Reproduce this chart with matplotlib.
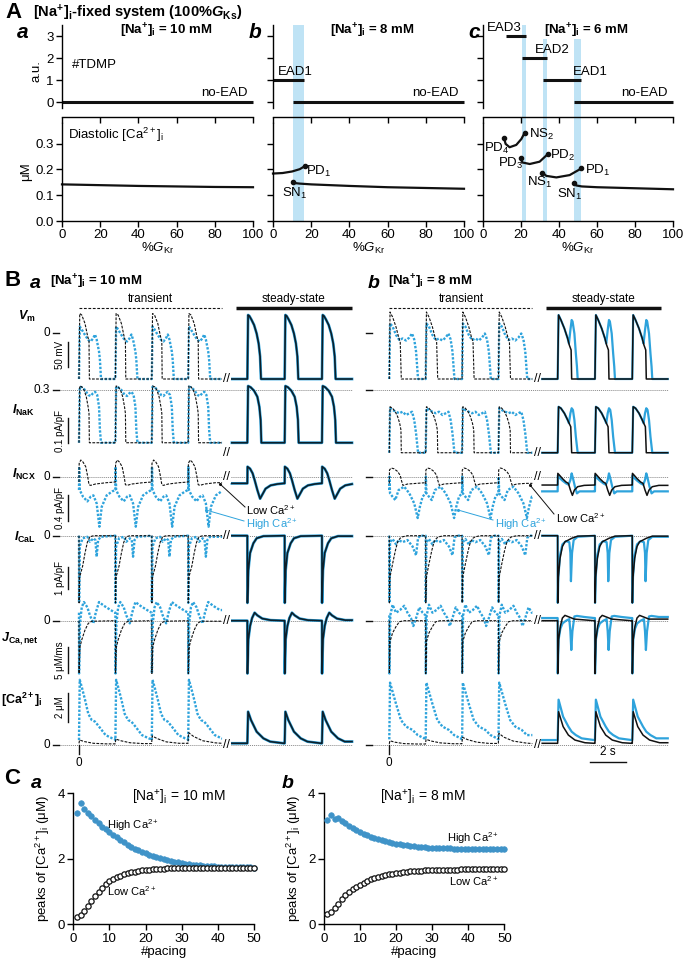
import matplotlib.pyplot as plt
import matplotlib.transforms as mtransforms
from matplotlib.patches import Rectangle

plt.rcParams['font.family'] = ['Liberation Sans', 'DejaVu Sans']
plt.rcParams['mathtext.fontset'] = 'custom'
plt.rcParams['mathtext.rm'] = 'Liberation Sans'
plt.rcParams['mathtext.it'] = 'Liberation Sans:italic'
plt.rcParams['mathtext.bf'] = 'Liberation Sans:bold'
plt.rcParams['mathtext.bfit'] = 'Liberation Sans:bold:italic'
plt.rcParams['axes.linewidth'] = 1.0
plt.rcParams['xtick.direction'] = 'out'
plt.rcParams['ytick.direction'] = 'out'

BLUE = '#2ea3dc'
CBLUE = '#3f93c8'
BAND = '#bfe3f5'
DOT_GREY = '#888888'

### panel A data (%GKr on x)
GKR_TICKS = [0, 20, 40, 60, 80, 100]
# TDMP segments: (start %GKr, end %GKr, number of EADs)
TDMP_A = [(0, 100, 0)]
TDMP_B = [(0, 16.2, 1), (10.5, 100, 0)]
TDMP_C = [(12, 22.6, 3), (20.5, 33.7, 2), (31.6, 51.6, 1), (47.9, 100, 0)]
TDMP_LABELS_B = [('EAD1', 2.5, 1.08)]
TDMP_LABELS_C = [('EAD3', 2, 3.08), ('EAD2', 27.5, 2.08), ('EAD1', 47.5, 1.08)]
BANDS_B = [(10.5, 16.2)]
BANDS_C = [(20.5, 22.6), (31.6, 33.7), (47.9, 51.6)]

# diastolic [Ca2+]i branches (uM)
DIAST_A = ([0, 20, 40, 60, 80, 100], [0.142, 0.139, 0.136, 0.134, 0.132, 0.131])
DIAST_B = [([0, 5, 10, 14, 16.5], [0.184, 0.186, 0.192, 0.201, 0.212]),
           ([10.3, 11.5, 14, 20, 40, 60, 80, 100], [0.153, 0.147, 0.145, 0.142, 0.136, 0.131, 0.128, 0.125])]
DIAST_C = [([47.9, 49, 52, 60, 80, 100], [0.147, 0.138, 0.134, 0.131, 0.127, 0.123]),
           ([31.2, 33.3, 38.6, 45.6, 51.8], [0.188, 0.175, 0.169, 0.178, 0.204]),
           ([19.8, 20.7, 24.6, 29.8, 34.2], [0.243, 0.227, 0.221, 0.23, 0.26]),
           ([11.1, 11.9, 14, 17.5, 20.2, 21.9], [0.321, 0.299, 0.286, 0.295, 0.318, 0.342])]
DOTS_B = ([16.5, 10.3], [0.212, 0.153])
DOTS_C = ([47.9, 31.2, 51.8, 19.8, 34.2, 11.1, 21.9], [0.147, 0.188, 0.204, 0.243, 0.26, 0.321, 0.342])
LABELS_B = [('PD$_1$', 17.5, 0.192), ('SN$_1$', 4.5, 0.108)]
LABELS_C = [('NS$_2$', 24.0, 0.337), ('PD$_4$', 0.5, 0.283), ('PD$_3$', 8.0, 0.222), ('PD$_2$', 35.0, 0.255),
            ('NS$_1$', 23.0, 0.148), ('PD$_1$', 53.5, 0.196), ('SN$_1$', 39.0, 0.103)]

### panel B data: one beat per template, time in s after the stimulus
ONSETS_TR = [0, 2, 4, 6]
ONSETS_SS = [9.25, 11.3, 13.35]

VM_LOW_A = ([0, .04, .15, .33, .46, .55, .57], [-92, 39, 36, 19, -4, -17, -92])
VM_HIGH_A = ([0, .04, .15, .33, .51, .64, .77, .88, .97, 1.10, 1.15, 1.21],
             [-92, 13, 7, -4, -14, -17, -11, -3, -13, -37, -54, -92])
VM_SS_A = ([0, .04, .11, .22, .37, .51, .62, .70, .75], [-92, 36, 34, 27, 16, -1, -21, -47, -92])
VM_LOW_B = ([0, .04, .18, .37, .51, .60, .66], [-92, 42, 32, 12, -8, -18, -92])
VM_HIGH_B = ([0, .04, .18, .37, .55, .73, .92, 1.10, 1.25, 1.37, 1.47, 1.58],
             [-92, 19, 13, -4, -14, -11, -15, -9, -1, -13, -37, -92])
VM_SS_B = ([0, .05, .18, .37, .55, .64, .74, .77], [-92, 36, 26, 9, -11, -24, -34, -92])
VM_SS_HIGH_B = ([0, .05, .18, .37, .55, .62, .70, .77, .82, .92, 1.0, 1.06, 1.1],
                [-92, 36, 26, 9, -11, -21, 6, 26, 23, -1, -41, -67, -92])

NAK_LOW_A = ([0, .04, .15, .28, .40, .50, .55, .57], [.089, .316, .313, .3, .273, .233, .207, .089])
NAK_HIGH_A = ([0, .04, .15, .33, .51, .64, .77, .88, 1.0, 1.10, 1.15, 1.21],
              [.089, .313, .311, .3, .28, .276, .287, .293, .28, .233, .14, .089])
NAK_SS_A = ([0, .04, .18, .37, .55, .66, .73, .77], [.089, .316, .311, .297, .273, .233, .18, .089])
NAK_LOW_B = ([0, .04, .18, .33, .46, .57, .64, .66], [.049, .233, .227, .213, .193, .167, .14, .049])
NAK_HIGH_B = ([0, .04, .18, .37, .55, .73, .92, 1.10, 1.25, 1.37, 1.47, 1.58],
              [.049, .227, .22, .213, .207, .213, .2, .207, .213, .18, .127, .049])
NAK_SS_B = ([0, .05, .18, .37, .55, .72, .77], [.049, .233, .227, .207, .18, .153, .049])
NAK_SS_HIGH_B = ([0, .05, .18, .37, .55, .62, .70, .77, .84, .92, 1.0, 1.1],
                 [.049, .233, .227, .207, .18, .167, .207, .227, .22, .18, .113, .049])

NCX_LOW_A = ([0, .01, .1, .22, .37, .48, .55, .64, .9, 1.5, 1.99],
             [-.08, .2, .25, .22, .15, 0, -.12, -.13, -.11, -.09, -.08])
NCX_HIGH_A = ([0, .01, .04, .22, .46, .64, .79, .97, 1.12, 1.25, 1.52, 1.83, 1.99],
              [-.2, .15, -.2, -.3, -.37, -.3, -.28, -.4, -.75, -.45, -.28, -.22, -.2])
NCX_SS_A = ([0, .01, .15, .29, .40, .55, .70, .82, 1.0, 1.28, 1.65, 2.0],
            [-.1, .15, .12, .05, -.05, -.2, -.33, -.27, -.18, -.13, -.11, -.1])
NCX_LOW_B = ([0, .01, .1, .25, .45, .6, .66, .75, 1.0, 1.5, 1.99],
             [-.1, .1, .13, .12, .08, .02, -.05, -.13, -.11, -.1, -.09])
NCX_HIGH_B = ([0, .01, .04, .18, .33, .51, .82, 1.1, 1.37, 1.56, 1.68, 1.83, 1.99],
              [-.2, 0, -.25, -.3, -.35, -.2, -.15, -.25, -.4, -.62, -.45, -.3, -.25])
NCX_SS_B = ([0, .01, .11, .27, .46, .59, .70, .81, .92, 1.1, 1.46, 2.0],
            [-.125, .05, .02, -.03, -.08, -.1, -.2, -.28, -.2, -.15, -.13, -.125])
NCX_SS_HIGH_B = ([0, .01, .11, .27, .46, .60, .70, .77, .84, .95, 1.06, 1.2, 2.0],
                 [-.22, .02, -.02, -.06, -.1, -.12, -.05, .05, -.02, -.15, -.25, -.22, -.22])

CAL_LOW_A = ([0, .005, .04, .2, .33, .46, .6, .8], [0, -3.1, -1.9, -1.4, -.8, -.3, -.05, 0])
CAL_HIGH_A = ([0, .005, .04, .2, .46, .6, .79, .9, .97, 1.05, 1.2],
              [0, -3.1, -.5, -.12, -.05, -.28, -.12, -.2, -.97, -.2, -.05])
CAL_SS_A = ([0, .005, .055, .15, .33, .51, .88], [0, -3.1, -1.6, -.8, -.35, -.12, -.02])
CAL_LOW_B = ([0, .005, .04, .18, .33, .46, .59, .73, 1.0], [0, -3.1, -1.9, -1.3, -.7, -.28, -.12, -.05, 0])
CAL_HIGH_B = ([0, .005, .04, .18, .37, .51, .73, 1.0, 1.28, 1.47, 1.58, 1.7],
              [0, -3.1, -.3, -.15, -.4, -.2, -.3, -.2, -.5, -.9, -.1, 0])
CAL_SS_B = ([0, .005, .04, .13, .26, .40, .59, .77, 1.1], [0, -3.1, -1.9, -1.05, -.5, -.28, -.2, -.12, -.02])
CAL_SS_HIGH_B = ([0, .005, .04, .13, .26, .46, .64, .70, .73, .79, .88, 1.1],
                 [0, -3.1, -1.9, -.9, -.4, -.25, -.3, -.8, -2.1, -.8, -.2, -.05])

JCA_LOW_A = ([0, .005, .055, .15, .33, .51, .7], [0, -9.9, -4.9, -3.6, -1.75, -.5, -.1])
JCA_HIGH_A = ([0, .005, .055, .15, .27, .46, .60, .79, .92, 1.1, 1.37, 1.74, 1.99],
              [1.5, -9.9, -.5, 2.5, 3.5, 2.5, 1.0, -.5, 1.5, 3.5, 2.8, 2.0, 1.5])
JCA_SS_A = ([0, .005, .055, .15, .26, .40, .55, .82, 1.28, 2.0], [0, -9.9, -3.5, -1.0, .5, 1.5, 1.0, .4, .1, 0])
JCA_LOW_B = ([0, .005, .04, .18, .37, .55, .8], [0, -9.9, -3.9, -2.3, -1.1, -.2, 0])
JCA_HIGH_B = ([0, .005, .055, .18, .37, .59, .82, 1.0, 1.19, 1.32, 1.47, 1.65, 1.83, 1.99],
              [1, -9.9, 1, 3, 1.5, 2, 2.8, 1.5, .5, -1, .5, 2.5, 1.5, 1])
JCA_SS_B = ([0, .005, .055, .15, .26, .40, .55, .92, 2.0], [0, -9.9, -3.5, -1.0, .5, 1.0, .8, .3, 0])
JCA_SS_HIGH_B = ([0, .005, .055, .15, .27, .46, .64, .70, .75, .81, .92, 1.06, 1.46, 2.0],
                 [.5, -9.9, -3.5, -1.5, -.5, 0, .3, -2, -5.5, -2, .8, .9, .7, .5])

# low-Ca transient [Ca2+]i grows beat by beat, so it is given for the whole transient
CA_LOW_A = ([0, .03, .3, .8, 1.5, 1.99, 2.02, 2.3, 2.8, 3.5, 3.99, 4.02, 4.3, 4.8, 5.5, 5.99, 6.02, 6.3, 6.8, 7.5, 7.86],
            [.12, .35, .24, .12, .08, .08, .42, .3, .16, .1, .1, .64, .45, .22, .12, .12, .87, .6, .3, .15, .12])
CA_HIGH_A = ([0, .04, .15, .33, .51, .7, .88, 1.1, 1.46, 1.83, 1.99], [.35, 4.6, 4.1, 3.2, 2.2, 1.76, 1.65, 1.3, .7, .47, .4])
CA_SS_A = ([0, .04, .2, .51, .88, 1.25, 2.0], [.12, 2.35, 1.76, .94, .47, .24, .12])
CA_LOW_B = ([0, .03, .3, .8, 1.5, 1.99, 2.02, 2.3, 2.8, 3.5, 3.99, 4.02, 4.3, 4.8, 5.5, 5.99, 6.02, 6.3, 6.8, 7.5, 7.86],
            [.08, .3, .2, .1, .07, .07, .4, .28, .15, .09, .09, .54, .38, .2, .11, .11, .82, .55, .28, .14, .1])
CA_HIGH_B = ([0, .04, .37, .64, .92, 1.28, 1.56, 1.92, 1.99], [.4, 4.4, 2.9, 1.76, 1.3, 1.06, .7, .47, .4])
CA_SS_B = ([0, .05, .3, .59, .95, 1.5, 2.0], [.12, 2.35, 1.3, .7, .35, .16, .12])
CA_SS_HIGH_B = ([0, .05, .3, .59, .77, 1.0, 1.32, 2.0], [.35, 3.2, 2.0, 1.3, .94, .7, .47, .35])

ROW_NAMES = ['vm', 'nak', 'ncx', 'cal', 'jca', 'ca']
ROW_LABELS = [r'$\mathbfit{V}_{\mathbf{m}}$', r'$\mathbfit{I}_{\mathbf{NaK}}$', r'$\mathbfit{I}_{\mathbf{NCX}}$',
              r'$\mathbfit{I}_{\mathbf{CaL}}$', r'$\mathbfit{J}_{\mathbf{Ca,net}}$',
              r'[Ca$^{\mathbf{2+}}$]$_{\mathbf{i}}$']
ROW_TICK_VALUES = [0, 0.3, 0, 0, 0, 0]
ROW_TICK_LABELS = ['0', '0.3', '0', '0', '0', '0']
SCALE_BAR_VALUES = [(-18, -68), (.188, .088), (-.27, -.67), (-1.45, -2.45), (-4.9, -9.9), (3.65, 1.65)]
SCALE_BAR_LABELS = ['50 mV', '0.1 pA/pF', '0.4 pA/pF', '1 pA/pF', '5 μM/ms', '2 μM']

### panel C data: peak [Ca2+]i per beat
PACING = list(range(1, 51))
PEAK_HIGH_A = [3.39, 3.69, 3.51, 3.39, 3.31, 3.2, 3.08, 2.98, 2.9, 2.82,
               2.74, 2.66, 2.58, 2.5, 2.43, 2.37, 2.31, 2.26, 2.21, 2.17,
               2.13, 2.09, 2.05, 2.02, 1.99, 1.96, 1.93, 1.91, 1.89, 1.87,
               1.85, 1.84, 1.82, 1.81, 1.8, 1.79, 1.78, 1.77, 1.77, 1.76,
               1.76, 1.75, 1.75, 1.75, 1.74, 1.74, 1.74, 1.74, 1.74, 1.73]
PEAK_LOW_A = [0.23, 0.28, 0.42, 0.57, 0.72, 0.87, 1.0, 1.12, 1.22, 1.31,
              1.38, 1.44, 1.49, 1.53, 1.56, 1.59, 1.61, 1.63, 1.645, 1.66,
              1.67, 1.68, 1.69, 1.695, 1.7, 1.705, 1.71, 1.71, 1.715, 1.72,
              1.72, 1.72, 1.72, 1.72, 1.725, 1.725, 1.725, 1.725, 1.725, 1.73,
              1.73, 1.73, 1.73, 1.73, 1.73, 1.73, 1.73, 1.73, 1.73, 1.73]
PEAK_HIGH_B = [3.2, 3.33, 3.22, 3.25, 3.15, 3.08, 3.0, 2.94, 2.88, 2.83,
               2.77, 2.72, 2.68, 2.64, 2.6, 2.57, 2.54, 2.51, 2.48, 2.46,
               2.44, 2.42, 2.41, 2.39, 2.38, 2.37, 2.36, 2.35, 2.34, 2.34,
               2.33, 2.33, 2.32, 2.32, 2.32, 2.31, 2.31, 2.31, 2.31, 2.31,
               2.3, 2.3, 2.3, 2.3, 2.3, 2.3, 2.3, 2.3, 2.3, 2.3]
PEAK_LOW_B = [0.3, 0.38, 0.5, 0.63, 0.76, 0.88, 0.98, 1.07, 1.15, 1.21,
              1.27, 1.32, 1.37, 1.41, 1.45, 1.48, 1.51, 1.53, 1.55, 1.57,
              1.58, 1.6, 1.61, 1.62, 1.63, 1.635, 1.64, 1.645, 1.65, 1.655,
              1.66, 1.66, 1.665, 1.665, 1.67, 1.67, 1.67, 1.675, 1.675, 1.675,
              1.68, 1.68, 1.68, 1.68, 1.68, 1.68, 1.68, 1.68, 1.68, 1.68]

### figure helpers (pixel layout)
W, H = 685, 966
fig = plt.figure(figsize=(W / 100, H / 100), dpi=100)


def px_axes(x0, y0, x1, y1):
    ax = fig.add_axes([x0 / W, 1 - y1 / H, (x1 - x0) / W, (y1 - y0) / H])
    ax.patch.set_visible(False)
    return ax


def ftext(x, y, s, **kw):
    fig.text(x / W, 1 - y / H, s, **kw)


def build_trace(onsets, template, start=None, end=None):
    tt, vv = template
    t_all, v_all = [], []
    if start is not None:
        t_all.append(start)
        v_all.append(vv[0])
    for t0 in onsets:
        for t, v in zip(tt, vv):
            t_all.append(t0 + t)
            v_all.append(v)
    if end is not None:
        keep = [i for i, t in enumerate(t_all) if t <= end]
        t_all = [t_all[i] for i in keep]
        v_all = [v_all[i] for i in keep]
        t_all.append(end)
        v_all.append(v_all[-1])
    return t_all, v_all


### panel A
ftext(5, 13, 'A', fontsize=16, fontweight='bold', va='center')
ftext(33, 13, r'[Na$^{\mathbf{+}}$]$_{\mathbf{i}}$-fixed system (100%$\mathbfit{G}_{\mathbf{Ks}}$)',
      fontsize=10.5, fontweight='bold', va='center')

A_COLS = [(62, 253), (273, 464), (483, 673)]
A_TITLES = [r'[Na$^{\mathbf{+}}$]$_{\mathbf{i}}$ = 10 mM', r'[Na$^{\mathbf{+}}$]$_{\mathbf{i}}$ = 8 mM',
            r'[Na$^{\mathbf{+}}$]$_{\mathbf{i}}$ = 6 mM']
A_TITLE_X = [166, 372, 586]
A_LETTER_X = [17, 249, 468]
tdmp_all = [TDMP_A, TDMP_B, TDMP_C]
tdmp_labels = [[], TDMP_LABELS_B, TDMP_LABELS_C]
bands_all = [[], BANDS_B, BANDS_C]
diast_all = [[DIAST_A], DIAST_B, DIAST_C]
dots_all = [None, DOTS_B, DOTS_C]
labels_all = [[], LABELS_B, LABELS_C]

for i, (x0, x1) in enumerate(A_COLS):
    ftext(A_LETTER_X[i], 32, 'abc'[i], fontsize=15, fontweight='bold', fontstyle='italic', va='center')
    ftext(A_TITLE_X[i], 31, A_TITLES[i], fontsize=9.5, fontweight='bold', va='center', ha='center')

    top = px_axes(x0, 25, x1, 117)
    top.set_xlim(0, 100)
    top.set_ylim(-0.68, 3.5)
    for sp in ['top', 'right']:
        top.spines[sp].set_visible(False)
    top.spines['left'].set_bounds(-0.25, 3.5)
    top.set_xticks(GKR_TICKS)
    top.set_xticklabels([])
    top.set_yticks([0, 1, 2, 3])
    top.tick_params(length=4, width=1, labelsize=9.5, pad=2)
    if i > 0:
        top.set_yticklabels([])
    else:
        top.set_ylabel('a.u.', fontsize=9.5, labelpad=3)
        top.text(5, 1.68, '#TDMP', fontsize=9.5, va='center')
    for (s, e, lev) in tdmp_all[i]:
        top.plot([s, e], [lev, lev], color='#111111', lw=2.2, solid_capstyle='butt', clip_on=False)
    top.text(97, 0.12, 'no-EAD', fontsize=9.5, ha='right', va='bottom')
    for (txt, x, y) in tdmp_labels[i]:
        top.text(x, y, txt, fontsize=9.5, va='bottom')

    low = px_axes(x0, 123, x1, 221)
    low.set_xlim(0, 100)
    low.set_ylim(0, 0.38)
    for sp in ['top', 'right']:
        low.spines[sp].set_visible(False)
    low.set_xticks(GKR_TICKS)
    low.set_yticks([0, 0.1, 0.2, 0.3])
    low.tick_params(length=4, width=1, labelsize=9.5, pad=2)
    if i > 0:
        low.set_yticklabels([])
    else:
        low.set_yticklabels(['0.0', '0.1', '0.2', '0.3'])
        low.set_ylabel('μM', fontsize=9.5, labelpad=2)
        low.text(3, 0.335, r'Diastolic [Ca$^{2+}$]$_\mathrm{i}$', fontsize=9.5, va='center')
    low.set_xlabel(r'%$G_{\mathrm{Kr}}$', fontsize=9.5, labelpad=0)
    for (bx, by) in diast_all[i]:
        low.plot(bx, by, color='#111111', lw=1.6, clip_on=False)
    if dots_all[i] is not None:
        low.plot(dots_all[i][0], dots_all[i][1], 'o', color='#111111', ms=3, clip_on=False)
    for (txt, x, y) in labels_all[i]:
        low.text(x, y, txt, fontsize=9.5, va='center')

    # light blue bands across both panels
    trans = mtransforms.blended_transform_factory(low.transData, fig.transFigure)
    for j, (lo, hi) in enumerate(bands_all[i]):
        ytop = 25 if (i == 1 or j == 0) else 39
        rect = Rectangle((lo, 1 - 221 / H), hi - lo, (221 - ytop) / H, transform=trans,
                         facecolor=BAND, edgecolor='none', zorder=-1)
        fig.add_artist(rect)

### panel B
PX_PER_S = 18.2
# row geometry: pixel of reference value, reference value, pixels per unit, top px, bottom px
ROW_GEOM = [(333, 0, 0.5, 296, 386), (390, 0.3, 250, 384, 458), (476.7, 0, 66.67, 455, 532),
            (535.7, 0, 21.67, 530, 606), (620.7, 0, 5.33, 597, 678), (745, 0, 14.17, 674, 762)]
# column geometry: pixel of t=0, axes left px, axes right px, end of steady-state trace (s)
COL_GEOM = {'a': (79, 40, 356, 15.0), 'b': (389.3, 358, 675, 15.3)}
BREAK_PX = [379, 453, 477, 536, 621, 745]

B_TRACES = {
    'a': [(VM_LOW_A, VM_HIGH_A, VM_SS_A, VM_SS_A), (NAK_LOW_A, NAK_HIGH_A, NAK_SS_A, NAK_SS_A),
          (NCX_LOW_A, NCX_HIGH_A, NCX_SS_A, NCX_SS_A), (CAL_LOW_A, CAL_HIGH_A, CAL_SS_A, CAL_SS_A),
          (JCA_LOW_A, JCA_HIGH_A, JCA_SS_A, JCA_SS_A), (CA_LOW_A, CA_HIGH_A, CA_SS_A, CA_SS_A)],
    'b': [(VM_LOW_B, VM_HIGH_B, VM_SS_B, VM_SS_HIGH_B), (NAK_LOW_B, NAK_HIGH_B, NAK_SS_B, NAK_SS_HIGH_B),
          (NCX_LOW_B, NCX_HIGH_B, NCX_SS_B, NCX_SS_HIGH_B), (CAL_LOW_B, CAL_HIGH_B, CAL_SS_B, CAL_SS_HIGH_B),
          (JCA_LOW_B, JCA_HIGH_B, JCA_SS_B, JCA_SS_HIGH_B), (CA_LOW_B, CA_HIGH_B, CA_SS_B, CA_SS_HIGH_B)],
}

ftext(4, 280, 'B', fontsize=16, fontweight='bold', va='center')
ftext(30, 283, 'a', fontsize=14, fontweight='bold', fontstyle='italic', va='center')
ftext(50, 282, r'[Na$^{\mathbf{+}}$]$_{\mathbf{i}}$ = 10 mM', fontsize=9.5, fontweight='bold', va='center')
ftext(368, 283, 'b', fontsize=14, fontweight='bold', fontstyle='italic', va='center')
ftext(388, 282, r'[Na$^{\mathbf{+}}$]$_{\mathbf{i}}$ = 8 mM', fontsize=9.5, fontweight='bold', va='center')
ftext(150, 299, 'transient', fontsize=8.5, ha='center', va='center')
ftext(293, 299, 'steady-state', fontsize=8.5, ha='center', va='center')
ftext(461, 299, 'transient', fontsize=8.5, ha='center', va='center')
ftext(604, 299, 'steady-state', fontsize=8.5, ha='center', va='center')

ROW_LABEL_POS = [(18, 316), (12, 410), (12, 474), (14, 537), (1, 639), (1, 700)]
for k, lab in enumerate(ROW_LABELS):
    ftext(ROW_LABEL_POS[k][0], ROW_LABEL_POS[k][1], lab, fontsize=9, fontweight='bold', va='center')

b_axes = {}
for col in ['a', 'b']:
    t0_px, ax_x0, ax_x1, ss_end = COL_GEOM[col]
    xlo = (ax_x0 - t0_px) / PX_PER_S
    xhi = (ax_x1 - t0_px) / PX_PER_S
    tpx = lambda x, t0=t0_px: (x - t0) / PX_PER_S
    for k, row in enumerate(ROW_NAMES):
        zero_px, ref, ppu, top_px, bot_px = ROW_GEOM[k]
        ax = px_axes(ax_x0, top_px, ax_x1, bot_px)
        ax.set_xlim(xlo, xhi)
        ax.set_ylim(ref - (bot_px - zero_px) / ppu, ref + (zero_px - top_px) / ppu)
        ax.axis('off')
        b_axes[(col, row)] = ax
        val = lambda y, z=zero_px, r=ref, p=ppu: r + (z - y) / p

        low, high, ss, ss_high = B_TRACES[col][k]
        # reference dotted line and tick
        if row != 'vm':
            x_start = tpx(59) if col == 'a' else tpx(373)
            ax.plot([x_start, ss_end], [ROW_TICK_VALUES[k]] * 2, color=DOT_GREY, lw=0.7,
                    ls=(0, (1, 1)), zorder=1)
        if col == 'a':
            ax.plot([tpx(53), tpx(59)], [ROW_TICK_VALUES[k]] * 2, color='#111111', lw=1, clip_on=False)
            ax.text(tpx(50), ROW_TICK_VALUES[k], ROW_TICK_LABELS[k], fontsize=8.5, ha='right', va='center')
            s0, s1 = SCALE_BAR_VALUES[k]
            ax.plot([tpx(68), tpx(68)], [s0, s1], color='#111111', lw=1, clip_on=False)
            ax.text(tpx(60), (s0 + s1) / 2, SCALE_BAR_LABELS[k], fontsize=7, rotation=90,
                    ha='center', va='center')
        else:
            ax.plot([tpx(366), tpx(372)], [ROW_TICK_VALUES[k]] * 2, color='#111111', lw=1, clip_on=False)

        # transient traces
        ht, hv = build_trace(ONSETS_TR, high, end=7.86)
        ax.plot(ht, hv, color=BLUE, lw=1.7, ls=(0, (1, 0.7)), zorder=2)
        onsets_low = [0] if row == 'ca' else ONSETS_TR
        lt, lv = build_trace(onsets_low, low, end=7.86)
        ax.plot(lt, lv, color='#111111', lw=0.8, ls=(0, (2.5, 1.2)), zorder=3)

        # steady-state traces
        st, sv = build_trace(ONSETS_SS, ss, start=8.4, end=ss_end)
        sht, shv = build_trace(ONSETS_SS, ss_high, start=8.4, end=ss_end)
        if col == 'a':
            ax.plot(sht, shv, color=BLUE, lw=2.0, zorder=2)
            ax.plot(st, sv, color='#0c1f2a', lw=1.2, zorder=3)
        else:
            ax.plot(sht, shv, color=BLUE, lw=1.6, zorder=2)
            ax.plot(st, sv, color='#111111', lw=1.1, zorder=3)

        # axis break marks
        bx = tpx(227) if col == 'a' else tpx(537)
        ax.text(bx, val(BREAK_PX[k]), '//', fontsize=9, ha='center', va='center', zorder=4,
                bbox=dict(facecolor='white', edgecolor='none', pad=0.3))

    # transient / steady-state markers in the Vm row
    vm_ax = b_axes[(col, 'vm')]
    vm_ax.plot([0, 7.86], [50, 50], color='#111111', lw=0.8, ls=(0, (2.5, 1.5)), clip_on=False)
    vm_ax.plot([tpx(236) if col == 'a' else tpx(546), tpx(352) if col == 'a' else tpx(661)], [50, 50],
               color='#111111', lw=2.5, solid_capstyle='butt', clip_on=False)
    # time zero tick
    ca_ax = b_axes[(col, 'ca')]
    ca_ax.plot([0, 0], [0, -0.6], color='#111111', lw=1, clip_on=False)
    ca_ax.text(0, -1.3, '0', fontsize=8.5, ha='center', va='center')

# 2 s scale bar
ca_b = b_axes[('b', 'ca')]
ca_b.plot([11.03, 12.98], [-1.2, -1.2], color='#111111', lw=1, clip_on=False)
ca_b.text(12.0, -0.95, '2 s', fontsize=8.5, ha='center', va='bottom')

# Low / High Ca2+ annotations in the INCX row
ARROWS = [((245, 507), (220, 484), '#111111'), ((244, 521), (206, 510), BLUE),
          ((554, 514), (530, 485), '#111111'), ((493, 520), (458, 510), BLUE)]
for (tail, head, c) in ARROWS:
    fig.add_artist(plt.Line2D([tail[0] / W, head[0] / W], [1 - tail[1] / H, 1 - head[1] / H],
                              color=c, lw=0.7, transform=fig.transFigure))
    fig.add_artist(plt.Line2D([head[0] / W], [1 - head[1] / H], marker='o', ms=1.2, color=c,
                              transform=fig.transFigure))
ftext(246, 510, r'Low Ca$^{2+}$', fontsize=8, va='center')
ftext(246, 524, r'High Ca$^{2+}$', fontsize=8, va='center', color=BLUE)
ftext(556, 518, r'Low Ca$^{2+}$', fontsize=8, va='center')
ftext(495, 524, r'High Ca$^{2+}$', fontsize=8, va='center', color=BLUE)

### panel C
ftext(4, 778, 'C', fontsize=16, fontweight='bold', va='center')
ftext(31, 783, 'a', fontsize=14, fontweight='bold', fontstyle='italic', va='center')
ftext(282, 783, 'b', fontsize=14, fontweight='bold', fontstyle='italic', va='center')

C_COLS = [(73.3, 254), (323.8, 504.3)]
c_high = [PEAK_HIGH_A, PEAK_HIGH_B]
c_low = [PEAK_LOW_A, PEAK_LOW_B]
c_titles = [r'[Na$^{+}$]$_\mathrm{i}$ = 10 mM', r'[Na$^{+}$]$_\mathrm{i}$ = 8 mM']
c_title_x = [29.2, 27.4]
c_label_pos = [((9.2, 3.03, 'left'), (9.2, 1.0, 'left')), ((48.5, 2.64, 'right'), (48.5, 1.32, 'right'))]
for i, (x0, x1) in enumerate(C_COLS):
    ax = px_axes(x0, 793.3, x1, 924.3)
    ax.set_xlim(0, 50)
    ax.set_ylim(0, 4)
    for sp in ['top', 'right']:
        ax.spines[sp].set_visible(False)
    ax.set_xticks([0, 10, 20, 30, 40, 50])
    ax.set_yticks([0, 2, 4])
    ax.tick_params(length=4, width=1, labelsize=9.5, pad=2)
    ax.plot(PACING, c_high[i], 'o', color=CBLUE, ms=4, mec=CBLUE, mew=0.5, clip_on=False, zorder=3)
    ax.plot(PACING, c_low[i], 'o', mfc='white', mec='#111111', ms=3.8, mew=0.9, clip_on=False, zorder=4)
    ax.set_xlabel('#pacing', fontsize=9.5, labelpad=1)
    ax.set_ylabel(r'peaks of [Ca$^{2+}$]$_\mathrm{i}$ (μM)', fontsize=9.5, labelpad=4)
    ax.text(c_title_x[i], 3.87, c_titles[i], fontsize=10, ha='center', va='center')
    hp, lp = c_label_pos[i]
    ax.text(hp[0], hp[1], r'High Ca$^{2+}$', fontsize=8, ha=hp[2], va='center')
    ax.text(lp[0], lp[1], r'Low Ca$^{2+}$', fontsize=8, ha=lp[2], va='center')

fig.savefig('out.png', dpi=100)
